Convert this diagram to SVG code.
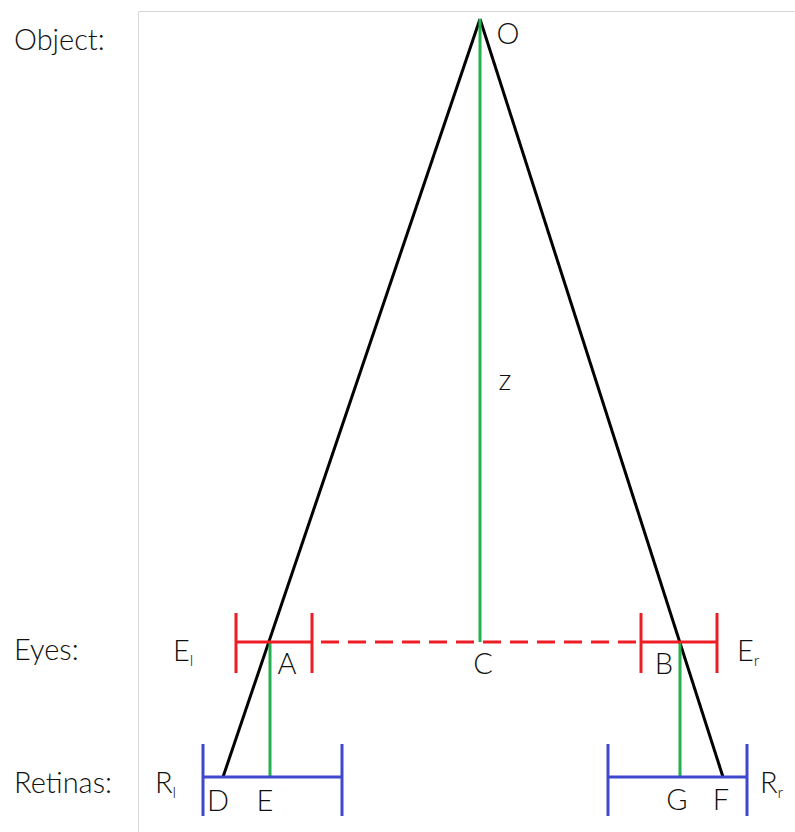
<svg xmlns="http://www.w3.org/2000/svg" width="795" height="832" viewBox="0 0 795 832">
<style>
text{font-family:Lato,"Open Sans","Liberation Sans",sans-serif;font-weight:300;fill:#111;font-size:29px}
.lbl{text-anchor:middle;dominant-baseline:central}
.sub{font-size:16px}
.k{stroke:#000;stroke-width:3;fill:none}
.g{stroke:#22b14c;stroke-width:3;fill:none}
.r{stroke:#ee1c24;stroke-width:3;fill:none}
.b{stroke:#3f48cc;stroke-width:3;fill:none}
</style>
<rect width="795" height="832" fill="#fff"/>
<path d="M138.5,832V11.5H795" stroke="#d8d8d8" stroke-width="1" fill="none"/>
<g id="row-labels">
<text x="14" y="50">Object:</text>
<text x="14" y="660">Eyes:</text>
<text x="14" y="793">Retinas:</text>
</g>
<g id="connectors">
<line class="k" x1="480" y1="19" x2="223" y2="777"/>
<line class="k" x1="480" y1="19" x2="723" y2="777"/>
<line class="g" x1="480" y1="19" x2="480" y2="642"/>
<line class="g" x1="270" y1="642" x2="270" y2="777"/>
<line class="g" x1="680" y1="642" x2="680" y2="777"/>
<line class="r" x1="312" y1="642" x2="641" y2="642" stroke-dasharray="18,9" stroke-dashoffset="-9"/>
</g>
<g id="eye-left">
<line class="r" x1="236" y1="642" x2="312" y2="642"/>
<line class="r" x1="236" y1="613" x2="236" y2="673"/>
<line class="r" x1="312" y1="613" x2="312" y2="673"/>
<text x="173" y="661">E<tspan class="sub" dy="5">l</tspan></text>
</g>
<g id="eye-right">
<line class="r" x1="641" y1="642" x2="717" y2="642"/>
<line class="r" x1="641" y1="613" x2="641" y2="673"/>
<line class="r" x1="717" y1="613" x2="717" y2="673"/>
<text x="737" y="661">E<tspan class="sub" dy="5">r</tspan></text>
</g>
<g id="retina-left">
<line class="b" x1="203" y1="777" x2="342" y2="777"/>
<line class="b" x1="203" y1="744" x2="203" y2="816"/>
<line class="b" x1="342" y1="744" x2="342" y2="816"/>
<text x="155" y="793">R<tspan class="sub" dy="5">l</tspan></text>
</g>
<g id="retina-right">
<line class="b" x1="608" y1="777" x2="747" y2="777"/>
<line class="b" x1="608" y1="744" x2="608" y2="816"/>
<line class="b" x1="747" y1="744" x2="747" y2="816"/>
<text x="760" y="793">R<tspan class="sub" dy="5">r</tspan></text>
</g>
<g id="points">
<text class="lbl" x="508" y="32">O</text>
<text class="lbl" x="505" y="378">z</text>
<text class="lbl" x="287" y="662">A</text>
<text class="lbl" x="483" y="662">C</text>
<text class="lbl" x="664" y="662">B</text>
<text class="lbl" x="218" y="799">D</text>
<text class="lbl" x="265" y="799">E</text>
<text class="lbl" x="677" y="798">G</text>
<text class="lbl" x="721" y="798">F</text>
</g>
</svg>
